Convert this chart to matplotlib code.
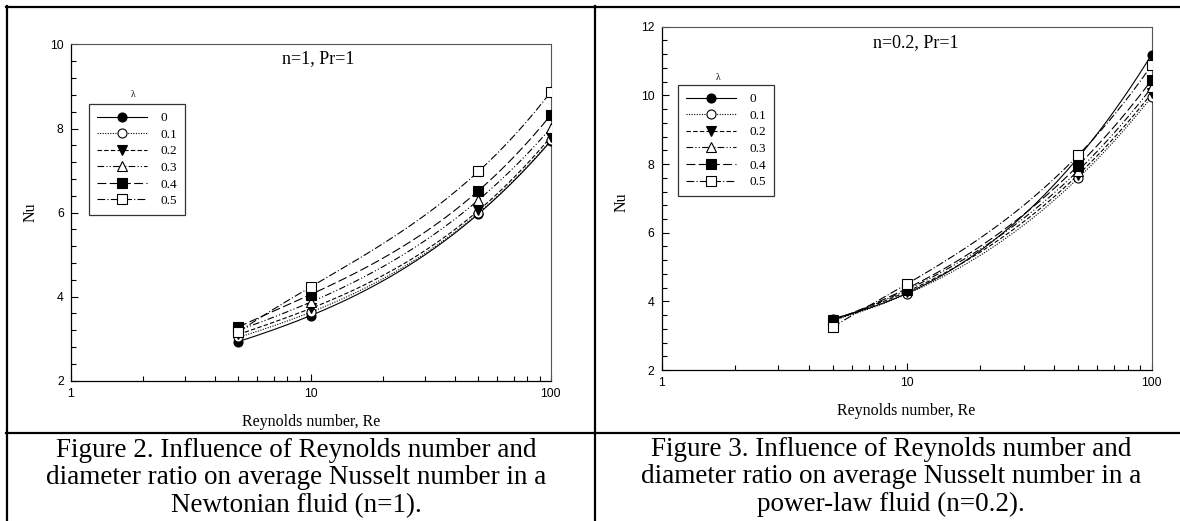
'''
Nusselt number vs Reynolds number for several diameter ratios.
Two panels: Newtonian fluid (n=1) and power-law fluid (n=0.2).
'''

# %% Imports.
import numpy as np
import matplotlib
matplotlib.use('Agg')
from matplotlib import pyplot as plt
from matplotlib.lines import Line2D
from matplotlib.ticker import MultipleLocator, LogLocator, NullFormatter

# %% Data.
Re = [5, 10, 50, 100]
lam = ['0', '0.1', '0.2', '0.3', '0.4', '0.5']

# Figure 2, n=1 (one row per lambda):
Nu_n1_l0 = [2.93, 3.55, 5.97, 7.70]
Nu_n1_l1 = [3.03, 3.63, 5.99, 7.72]
Nu_n1_l2 = [3.10, 3.72, 6.05, 7.80]
Nu_n1_l3 = [3.20, 3.87, 6.30, 8.01]
Nu_n1_l4 = [3.28, 4.05, 6.52, 8.32]
Nu_n1_l5 = [3.16, 4.23, 6.98, 8.87]

# Figure 3, n=0.2:
Nu_n02_l0 = [3.50, 4.23, 8.18, 11.19]
Nu_n02_l1 = [3.45, 4.21, 7.58, 9.96]
Nu_n02_l2 = [3.47, 4.28, 7.68, 10.06]
Nu_n02_l3 = [3.43, 4.33, 7.80, 10.23]
Nu_n02_l4 = [3.44, 4.37, 7.95, 10.45]
Nu_n02_l5 = [3.26, 4.50, 8.25, 10.88]

# %% Styles.
ls = ['-', (0, (1, 1.3)), (0, (4, 2)), (0, (6, 2, 1, 2, 1, 2)),
      (0, (8, 3)), (0, (7, 2, 1, 2))]
mk = ['o', 'o', 'v', '^', 's', 's']
mfc = ['k', 'w', 'k', 'w', 'k', 'w']

serif = ['Liberation Serif', 'DejaVu Serif']
sans = ['Liberation Sans', 'DejaVu Sans']

fig = plt.figure(figsize=(11.8, 5.21), dpi=100)


def panel(rect, series, ylim, text, txt_pos, lam_pos, leg_pos, lab_pos):
    ax = fig.add_axes(rect)
    xs = np.logspace(np.log10(Re[0]), np.log10(Re[-1]), 200)
    for i, nu in enumerate(series):
        # smooth curve through the points (cubic in log Re):
        c = np.polyfit(np.log10(Re), nu, 3)
        ax.plot(xs, np.polyval(c, np.log10(xs)), color='k', lw=0.8,
                linestyle=ls[i])
        ax.plot(Re, nu, linestyle='none', marker=mk[i], mfc=mfc[i],
                mec='k', mew=0.8, ms=6.5, zorder=3)
    # Legend handles:
    handles = [Line2D([], [], color='k', lw=0.8, linestyle=ls[i],
                      marker=mk[i], mfc=mfc[i], mec='k', mew=0.8, ms=6.5)
               for i in range(len(lam))]
    leg = ax.legend(handles, lam, loc='upper left', bbox_to_anchor=leg_pos,
                    borderaxespad=0, frameon=True, fancybox=False,
                    edgecolor='k', handlelength=3.8, handletextpad=1.0,
                    labelspacing=0.33, borderpad=0.6, numpoints=1,
                    prop={'family': serif, 'size': 9.5})
    leg.get_frame().set_linewidth(0.9)
    ax.text(lam_pos[0], lam_pos[1], 'λ', transform=ax.transAxes,
            ha='center', va='center', family=serif, fontsize=7)
    ax.text(txt_pos[0], txt_pos[1], text, transform=ax.transAxes,
            ha='center', va='center', family=serif, fontsize=13)

    # Axes:
    ax.set_xscale('log')
    ax.set_xlim(1, 100)
    ax.set_ylim(*ylim)
    ax.yaxis.set_major_locator(MultipleLocator(2))
    ax.yaxis.set_minor_locator(MultipleLocator(0.4))
    ax.xaxis.set_minor_locator(LogLocator(base=10, subs=np.arange(2, 10)))
    ax.xaxis.set_minor_formatter(NullFormatter())
    ax.set_xticks([1, 10, 100])
    ax.set_xticklabels(['1', '10', '100'])
    ax.tick_params(which='both', direction='in', top=False, right=False,
                   labelsize=8.8, pad=5)
    ax.tick_params(which='major', length=5, width=0.8)
    ax.tick_params(which='minor', length=3.5, width=0.8)
    for t in ax.get_xticklabels() + ax.get_yticklabels():
        t.set_family(sans)
    for s in ['top', 'right']:
        ax.spines[s].set_color('#555555')
        ax.spines[s].set_linewidth(0.8)
    for s in ['left', 'bottom']:
        ax.spines[s].set_linewidth(0.9)

    ax.set_xlabel('Reynolds number, Re', family=serif, fontsize=11.5)
    ax.set_ylabel('Nu', family=serif, fontsize=11.5)
    ax.xaxis.set_label_coords(lab_pos[0], lab_pos[1])
    ax.yaxis.set_label_coords(lab_pos[2], lab_pos[3])
    return ax


# %% Panels.
panel([0.0599, 0.2693, 0.4068, 0.6453],
      [Nu_n1_l0, Nu_n1_l1, Nu_n1_l2, Nu_n1_l3, Nu_n1_l4, Nu_n1_l5],
      (2, 10), 'n=1, Pr=1', (0.515, 0.957), (0.131, 0.85),
      (0.0385, 0.823), (0.5, -0.10, -0.066, 0.5))

panel([0.5606, 0.2898, 0.4154, 0.6589],
      [Nu_n02_l0, Nu_n02_l1, Nu_n02_l2, Nu_n02_l3, Nu_n02_l4, Nu_n02_l5],
      (2, 12), 'n=0.2, Pr=1', (0.518, 0.955), (0.115, 0.853),
      (0.0345, 0.830), (0.5, -0.096, -0.066, 0.489))

# %% Table lines and captions.
W, H = 1180., 521.


def hline(y, x0, x1):
    fig.add_artist(Line2D([x0 / W, x1 / W], [1 - y / H, 1 - y / H],
                          color='k', lw=1.6))


def vline(x, y0, y1):
    fig.add_artist(Line2D([x / W, x / W], [1 - y0 / H, 1 - y1 / H],
                          color='k', lw=1.6))


hline(6.5, 6, W)
hline(432.7, 6, W)
vline(6.7, 6, H)
vline(594.7, 6, H)

cap2 = ('Figure 2. Influence of Reynolds number and\n'
        'diameter ratio on average Nusselt number in a\n'
        'Newtonian fluid (n=1).')
cap3 = ('Figure 3. Influence of Reynolds number and\n'
        'diameter ratio on average Nusselt number in a\n'
        'power-law fluid (n=0.2).')
fig.text(296 / W, 1 - 478 / H, cap2, ha='center', va='center',
         family=serif, fontsize=19.5, linespacing=1.15)
fig.text(891 / W, 1 - 477 / H, cap3, ha='center', va='center',
         family=serif, fontsize=19.5, linespacing=1.15)

fig.savefig('out.png', dpi=100)
